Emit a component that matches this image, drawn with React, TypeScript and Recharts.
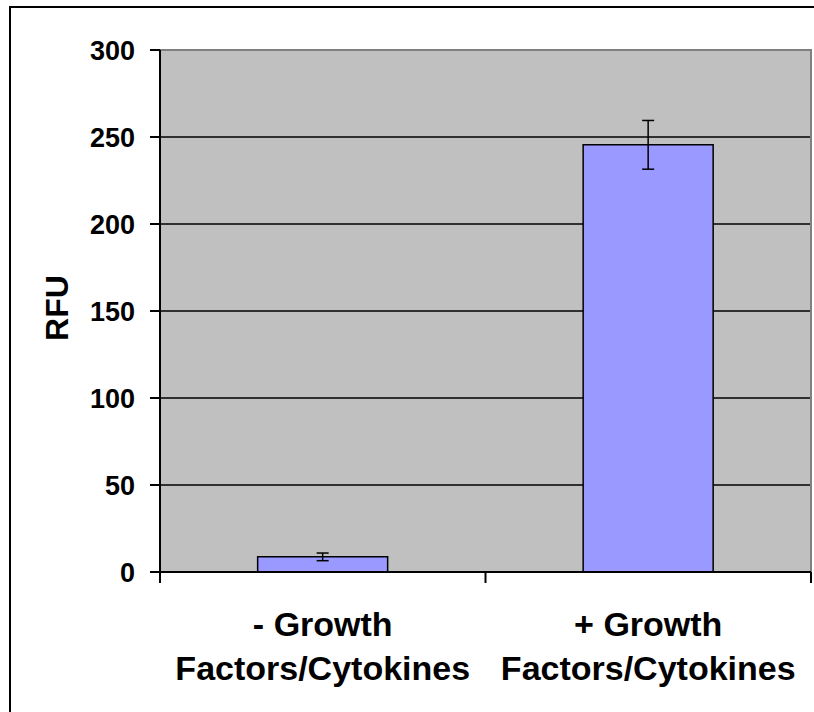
import { BarChart, Bar, XAxis, YAxis, CartesianGrid, ErrorBar, ReferenceArea, ReferenceLine, Label } from 'recharts';

const categories = ['- Growth Factors/Cytokines', '+ Growth Factors/Cytokines'];
const labelLines = [
  ['- Growth', 'Factors/Cytokines'],
  ['+ Growth', 'Factors/Cytokines'],
];
const rfu = [8.7, 245.5];
const rfuError = [2.2, 14];
const yTicks = [0, 50, 100, 150, 200, 250, 300];

const data = categories.map((name, i) => ({ name, rfu: rfu[i], err: rfuError[i] }));

// tick marks between categories, below the axis (Excel style)
const boundaries: { cat: string; pos: 'start' | 'end' }[] = [
  { cat: categories[0], pos: 'start' },
  { cat: categories[1], pos: 'start' },
  { cat: categories[1], pos: 'end' },
];
const TICK_DEPTH = -6.3;

const FONT = 'Arial, "Liberation Sans", sans-serif';

function CategoryTick(props: any) {
  const { x, y, payload } = props;
  const lines = labelLines[payload.index] || [String(payload.value)];
  return (
    <text x={x} y={y} textAnchor="middle" fontFamily={FONT} fontWeight="bold" fontSize={34} fill="#000">
      <tspan x={x} y={y + 64}>{lines[0]}</tspan>
      <tspan x={x} y={y + 108}>{lines[1]}</tspan>
    </text>
  );
}

export default function App() {
  return (
    <div style={{ position: 'absolute', left: 0, top: 0, width: 814, height: 712, background: '#fff', overflow: 'hidden' }}>
      {/* chart frame, cut off on the right and bottom */}
      <div style={{ position: 'absolute', left: 9, top: 6, width: 900, height: 800, border: '2px solid #000' }} />
      <div style={{ position: 'absolute', left: 0, top: 0 }}>
        <BarChart width={814} height={712} data={data} margin={{ top: 50, right: 3, left: 0, bottom: 0 }} barCategoryGap="30%">
          <CartesianGrid vertical={false} stroke="#000" strokeWidth={1.5} fill="#C0C0C0" fillOpacity={1} />
          <ReferenceArea y1={0} y2={300} fill="none" stroke="#808080" strokeWidth={2} ifOverflow="visible" />
          <XAxis
            dataKey="name"
            height={140}
            tickSize={0}
            tickMargin={0}
            tickLine={false}
            axisLine={{ stroke: '#000', strokeWidth: 2 }}
            tick={<CategoryTick />}
            interval={0}
          />
          <YAxis
            width={160}
            domain={[0, 300]}
            ticks={yTicks}
            tickSize={10}
            tickMargin={15}
            axisLine={{ stroke: '#000', strokeWidth: 2 }}
            tickLine={{ stroke: '#000', strokeWidth: 2 }}
            tick={{ fill: '#000', fontSize: 27, fontWeight: 'bold', fontFamily: FONT }}
          >
            <Label
              content={(p: any) => {
                const vb = p.viewBox || { x: 0, y: 50, height: 522 };
                const cx = vb.x + 56;
                const cy = vb.y + vb.height / 2 - 3;
                return (
                  <text
                    x={cx}
                    y={cy}
                    transform={`rotate(-90 ${cx} ${cy})`}
                    textAnchor="middle"
                    dy="0.36em"
                    fontFamily={FONT}
                    fontWeight="bold"
                    fontSize={32}
                    fill="#000"
                  >
                    RFU
                  </text>
                );
              }}
            />
          </YAxis>
          {boundaries.map((b, i) => (
            <ReferenceLine
              key={i}
              position={b.pos}
              segment={[
                { x: b.cat, y: 0 },
                { x: b.cat, y: TICK_DEPTH },
              ]}
              stroke="#000"
              strokeWidth={2}
              ifOverflow="visible"
            />
          ))}
          <Bar dataKey="rfu" fill="#9999FF" stroke="#000" strokeWidth={1.5} isAnimationActive={false}>
            <ErrorBar dataKey="err" width={6} stroke="#000" strokeWidth={1.5} direction="y" />
          </Bar>
        </BarChart>
      </div>
    </div>
  );
}
